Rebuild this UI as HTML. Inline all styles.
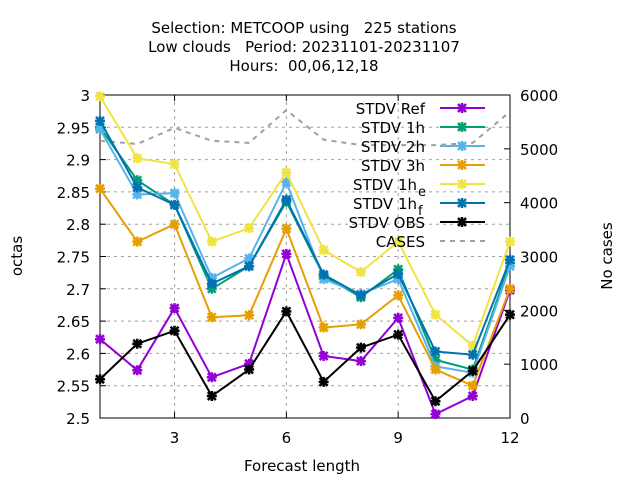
<!DOCTYPE html>
<html><head><meta charset="utf-8"><style>
body{margin:0;background:#fff}
svg{font-family:"DejaVu Sans","Liberation Sans",sans-serif}
text{white-space:pre}
</style></head><body>
<svg id="c" width="640" height="480" xmlns="http://www.w3.org/2000/svg">
<rect width="640" height="480" fill="#fff"/>
<g font-size="15" text-anchor="middle" fill="#000">
<text x="304" y="33" xml:space="preserve">Selection: METCOOP using   225 stations</text>
<text x="304" y="52" xml:space="preserve">Low clouds   Period: 20231101-20231107</text>
<text x="304" y="71" xml:space="preserve">Hours:  00,06,12,18</text>
</g>
<g id="grid"></g><g id="axes"></g><g id="series"></g><g id="legend"></g>
<text x="302" y="471" font-size="15" text-anchor="middle">Forecast length</text>
<text transform="translate(22,256) rotate(-90)" font-size="15" text-anchor="middle">octas</text>
<text transform="translate(612,256) rotate(-90)" font-size="15" text-anchor="middle">No cases</text>
</svg>
<script>
const xs=[1,2,3,4,5,6,7,8,9,10,11,12];
const xTicks=[3,6,9,12];
const yTicks=[2.5,2.55,2.6,2.65,2.7,2.75,2.8,2.85,2.9,2.95,3];
const y2Ticks=[0,1000,2000,3000,4000,5000,6000];
const sRef=[2.622,2.574,2.67,2.563,2.584,2.754,2.596,2.588,2.655,2.506,2.534,2.698];
const s1h=[2.95,2.868,2.83,2.70,2.735,2.835,2.72,2.687,2.73,2.59,2.575,2.74];
const s2h=[2.947,2.846,2.848,2.717,2.747,2.865,2.715,2.692,2.715,2.58,2.57,2.735];
const s3h=[2.855,2.773,2.80,2.656,2.659,2.793,2.64,2.645,2.69,2.575,2.55,2.70];
const s1he=[2.998,2.902,2.893,2.773,2.794,2.88,2.76,2.726,2.773,2.66,2.612,2.773];
const s1hf=[2.96,2.857,2.83,2.708,2.735,2.838,2.722,2.69,2.723,2.603,2.598,2.745];
const sObs=[2.56,2.615,2.635,2.534,2.575,2.665,2.556,2.609,2.629,2.526,2.573,2.66];
const cases=[5150,5090,5390,5150,5110,5720,5170,5070,5070,5070,5110,5690];
const L=100,R=510,T=95,B=418;
const X=v=>L+(v-1)/11*(R-L);
const Y=v=>B-(v-2.5)/0.5*(B-T);
const Y2=v=>B-v/6000*(B-T);
const NS="http://www.w3.org/2000/svg";
function mk(p,tag,at){const e=document.createElementNS(NS,tag);for(const k in at)e.setAttribute(k,at[k]);document.getElementById(p).appendChild(e);return e;}
yTicks.forEach(v=>{
 if(v>2.5&&v<3){const g=mk('grid','line',{x1:L,x2:R,y1:Y(v),y2:Y(v),stroke:'#a0a0a0','stroke-dasharray':'3,4'});
 
 }
 mk('axes','line',{x1:L,x2:L+6,y1:Y(v),y2:Y(v),stroke:'#000'});
 const t=mk('axes','text',{x:L-10,y:Y(v)+6,'font-size':15,'text-anchor':'end'});t.textContent=v===3?'3':v.toFixed(2).replace(/0$/,'');
 
 
});
xTicks.forEach(v=>{
 if(v<12){const g=mk('grid','line',{x1:X(v),x2:X(v),y1:T,y2:B,stroke:'#a0a0a0','stroke-dasharray':'3,4'});
 
 }
 mk('axes','line',{x1:X(v),x2:X(v),y1:B,y2:B-6,stroke:'#000'});
 mk('axes','line',{x1:X(v),x2:X(v),y1:T,y2:T+6,stroke:'#000'});
 const t=mk('axes','text',{x:X(v),y:B+25,'font-size':15,'text-anchor':'middle'});t.textContent=v;
 
 
});
y2Ticks.forEach(v=>{
 mk('axes','line',{x1:R,x2:R-6,y1:Y2(v),y2:Y2(v),stroke:'#000'});
 const t=mk('axes','text',{x:R+10,y:Y2(v)+6,'font-size':15});t.textContent=v;
 
 
});
const fr=mk('axes','rect',{x:L,y:T,width:R-L,height:B-T,fill:'none',stroke:'#000'});


const cl=mk('series','polyline',{points:xs.map((x,i)=>X(x)+','+Y2(cases[i])).join(' '),fill:'none',stroke:'#a0a0a0','stroke-width':2,'stroke-dasharray':'5,5'});


function star(p,x,y,c){mk(p,'path',{d:`M${x-4},${y-4}L${x+4},${y+4}M${x-4},${y+4}L${x+4},${y-4}M${x-5},${y}L${x+5},${y}M${x},${y-5}L${x},${y+5}`,stroke:c,'stroke-width':2.5});}
const ser=[['STDV Ref',sRef,'#9400d3'],['STDV 1h',s1h,'#009e73'],['STDV 2h',s2h,'#56b4e9'],['STDV 3h',s3h,'#e69f00'],['STDV 1h',s1he,'#f0e442','e'],['STDV 1h',s1hf,'#0072b2','f'],['STDV OBS',sObs,'#000000']];
ser.forEach(([n,d,c])=>{
 const pl=mk('series','polyline',{points:xs.map((x,i)=>X(x)+','+Y(d[i])).join(' '),fill:'none',stroke:c,'stroke-width':2});
 
 
 xs.forEach((x,i)=>star('series',X(x),Y(d[i]),c));
});
const ly=[108,127,146,165,184,203,222,241];
ser.forEach(([n,d,c,sub],i)=>{
 const y=ly[i];
 const t=mk('legend','text',{x:sub?417:425,y:y+6,'font-size':15,'text-anchor':'end'});t.textContent=n;
 
 
 if(sub){const s=mk('legend','text',{x:418,y:y+12,'font-size':13});s.textContent=sub;}
 mk('legend','line',{x1:440,x2:485,y1:y,y2:y,stroke:c,'stroke-width':2});
 star('legend',462,y,c);
});
const ct=mk('legend','text',{x:425,y:247,'font-size':15,'text-anchor':'end'});ct.textContent='CASES';


mk('legend','line',{x1:440,x2:485,y1:241,y2:241,stroke:'#a0a0a0','stroke-width':2,'stroke-dasharray':'5,5'});
</script>
</body></html>
